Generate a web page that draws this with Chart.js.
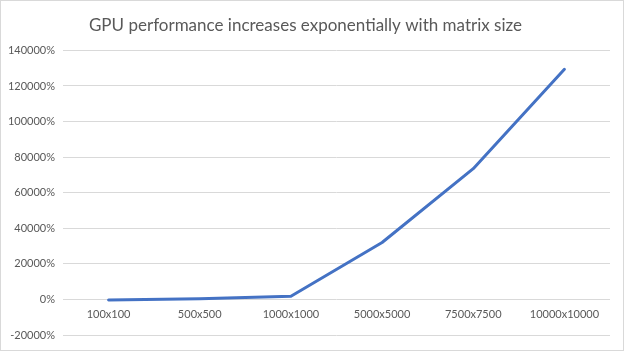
<!DOCTYPE html>
<html>
<head>
<meta charset="utf-8">
<script src="https://cdn.jsdelivr.net/npm/chart.js@4"></script>
<style>
  html, body { margin: 0; padding: 0; background: #fff; }
  #wrap { width: 624px; height: 351px; box-sizing: border-box; border: 1px solid #d9d9d9; position: relative; }
  canvas { display: block; }
</style>
</head>
<body>
<div id="wrap"><canvas id="perfChart"></canvas></div>
<script>
const sizes = ['100x100', '500x500', '1000x1000', '5000x5000', '7500x7500', '10000x10000'];
const gainPct = [-300, 400, 1800, 32000, 73500, 129400];
const yTicks = [-20000, 0, 20000, 40000, 60000, 80000, 100000, 120000, 140000];

const textGrey = '#595959';
const gridGrey = '#d9d9d9';

new Chart(document.getElementById('perfChart'), {
  type: 'line',
  data: {
    labels: sizes,
    datasets: [{
      label: 'Speedup',
      data: gainPct,
      borderColor: '#4472C4',
      borderWidth: 3,
      borderJoinStyle: 'round',
      borderCapStyle: 'round',
      pointRadius: 0,
      tension: 0,
      fill: false,
    }],
  },
  options: {
    responsive: true,
    maintainAspectRatio: false,
    animation: false,
    layout: { padding: { left: 0, right: 13, top: 0, bottom: 15 } },
    plugins: {
      legend: { display: false },
      tooltip: { enabled: false },
      title: {
        display: true,
        text: 'GPU performance increases exponentially with matrix size',
        color: textGrey,
        font: { family: 'Lato', size: 17, weight: 'normal' },
        padding: { top: 14, bottom: 15 },
      },
    },
    scales: {
      x: {
        position: { y: 0 },
        offset: true,
        grid: { display: false, drawTicks: false },
        border: { display: false },
        ticks: { color: textGrey, font: { family: 'Lato', size: 11 }, padding: 8, maxRotation: 0 },
      },
      y: {
        min: -20000,
        max: 140000,
        afterBuildTicks: s => { s.ticks = yTicks.map(v => ({ value: v })); },
        afterFit: s => { s.width = 62; },
        grid: { color: gridGrey, drawTicks: false },
        border: { display: false },
        ticks: { color: textGrey, font: { family: 'Lato', size: 11 }, padding: 8, callback: v => v + '%' },
      },
    },
  },
});
</script>
</body>
</html>
